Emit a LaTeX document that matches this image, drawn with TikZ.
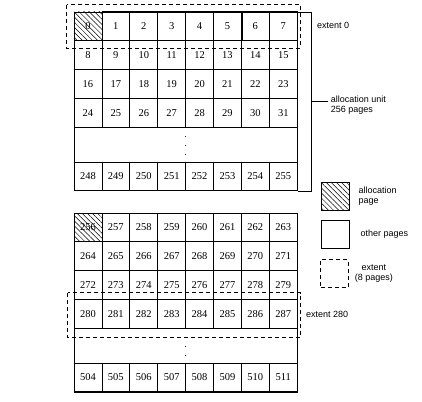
\documentclass[tikz,border=0pt]{standalone}
\usepackage{fontspec}
\setmainfont{Liberation Serif}
\newfontfamily\labelfont{Liberation Sans}
\usetikzlibrary{positioning, calc, patterns.meta}

\tikzset{
  cell/.style={draw, line width=0.8pt, minimum width=27.9pt, minimum height=28.75pt, inner sep=0pt, font=\fontsize{10.5}{12}\selectfont},
  allocpage/.style={pattern={Lines[angle=-45, distance=3.6pt, line width=0.5pt]}},
  hatchif/.code={\ifnum#1=0\relax\pgfkeysalso{allocpage}\fi},
  gaprow/.style={draw, line width=0.8pt, minimum width=223.2pt, minimum height=35pt, inner sep=0pt},
  extbox/.style={draw, line width=0.8pt, dash pattern=on 4pt off 3pt},
  thickedge/.style={line width=1.6pt},
  lbl/.style={font=\labelfont\fontsize{9}{10}\selectfont, inner sep=0pt}
}

\begin{document}
\begin{tikzpicture}[x=1pt, y=-1pt]
  \useasboundingbox (0,0) rectangle (422,401);

  % first allocation unit
  \foreach \r in {0,...,3}
    \foreach \c in {0,...,7} {
      \pgfmathtruncatemacro\n{8*\r+\c}
      \node[cell, hatchif=\n] (p\n) at ({74+27.9*(\c+0.5)}, {12+28.75*(\r+0.5)}) {\n};
    }
  \node[gaprow] (dotsA) at (185.6,144.5) {};
  \foreach \c in {0,...,7} {
    \pgfmathtruncatemacro\n{248+\c}
    \node[cell] (p\n) at ({74+27.9*(\c+0.5)}, 176.4) {\n};
  }

  % second allocation unit
  \foreach \r in {0,...,3}
    \foreach \c in {0,...,7} {
      \pgfmathtruncatemacro\n{256+8*\r+\c}
      \pgfmathtruncatemacro\k{8*\r+\c}
      \node[cell, hatchif=\k] (p\n) at ({74+27.9*(\c+0.5)}, {213+28.75*(\r+0.5)}) {\n};
    }
  \node[gaprow] (dotsB) at (185.6,345.5) {};
  \foreach \c in {0,...,7} {
    \pgfmathtruncatemacro\n{504+\c}
    \node[cell] (p\n) at ({74+27.9*(\c+0.5)}, 377.4) {\n};
  }

  % vertical dots
  \foreach \d in {-8,1,10} {
    \fill ($(dotsA.center)+(0,\d)$) circle (0.6pt);
    \fill ($(dotsB.center)+(0,\d)$) circle (0.6pt);
  }

  \draw[thickedge] (p1.north west) -- (p7.north east);
  \draw[thickedge] (p5.north east) -- (p5.south east);
  \draw[thickedge] (p504.south west) -- (p511.south east);

  % extents
  \draw[extbox] ($(p0.north west)+(-7,-7)$) rectangle ($(p7.south east)+(3,7)$);
  \draw[extbox] ($(p280.north west)+(-6,-6)$) rectangle ($(p287.south east)+(3,9)$);
  \node[lbl, anchor=west] (ext0) at (317,25) {extent 0};
  \node[lbl, anchor=west] (ext280) at (306,314) {extent 280};

  % allocation unit bracket
  \draw[line width=0.8pt] ($(p7.north east)+(0,1)$) -- ++(14,0) |- (p255.south east);
  \coordinate (unitmid) at ($(p7.north east)!0.5!(p255.south east)+(14,0)$);
  \node[lbl, anchor=west, align=left] (unitlbl) at ($(unitmid)+(19,4)$) {allocation unit\\256 pages};
  \draw[line width=0.8pt] (unitmid) -- ($(unitmid -| unitlbl.west)+(-3,0)$);

  % key
  \node[draw, line width=0.8pt, minimum size=28pt, allocpage] (keyalloc) at (335,196) {};
  \node[lbl, align=left, right=9pt of keyalloc] (keyalloclbl) {allocation\\page};
  \node[draw, line width=0.8pt, minimum size=28pt] (keyother) at (335,234.5) {};
  \node[lbl, right=11pt of keyother] (keyotherlbl) {other pages};
  \node[extbox, minimum size=27.5pt] (keyext) at (334.5,273.5) {};
  \node[lbl, align=center, right=6pt of keyext] (keyextlbl) {extent\\(8 pages)};
\end{tikzpicture}
\end{document}
